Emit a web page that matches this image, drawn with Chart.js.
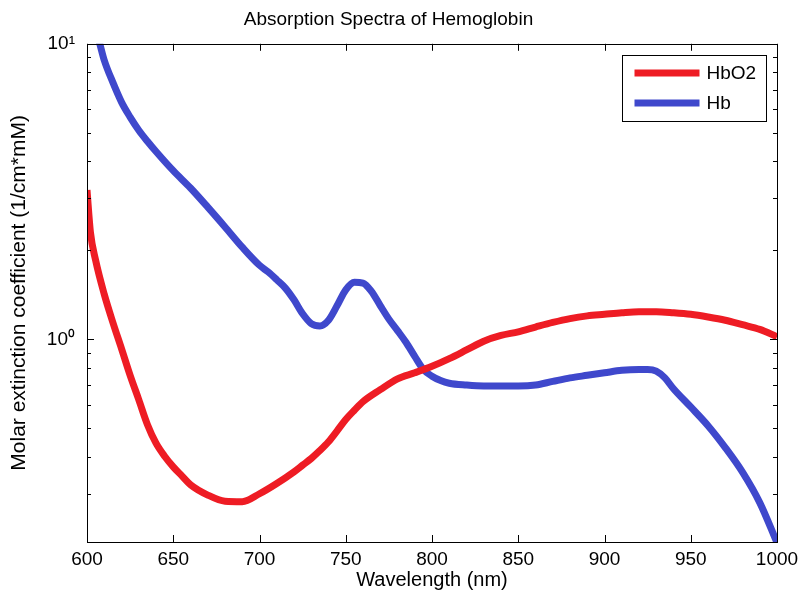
<!DOCTYPE html>
<html>
<head>
<meta charset="utf-8">
<script src="https://cdn.jsdelivr.net/npm/chart.js@4"></script>
<style>
  body { margin: 0; background: #fff; }
  canvas { display: block; }
</style>
</head>
<body>
<canvas id="chart" width="798" height="598"></canvas>
<script>
// data
const hbWavelengths = [600, 603, 607, 610, 615, 620, 625, 630, 635, 640, 650, 660, 670, 680, 690, 700,
  705, 710, 715, 720, 725, 730, 735, 740, 745, 750, 755, 760, 765, 770, 775, 780, 785, 790, 795, 800,
  805, 810, 820, 830, 840, 850, 860, 870, 880, 890, 900, 910, 920, 925, 930, 935, 940, 950, 960,
  970, 980, 990, 1000];
const hbValues = [14, 12, 10.2, 8.8, 7.4, 6.35, 5.65, 5.1, 4.68, 4.32, 3.72, 3.25, 2.8, 2.4, 2.05, 1.78,
  1.69, 1.59, 1.49, 1.36, 1.22, 1.13, 1.11, 1.16, 1.3, 1.47, 1.56, 1.55, 1.45, 1.3, 1.17, 1.07, 0.975,
  0.875, 0.79, 0.75, 0.725, 0.71, 0.7, 0.695, 0.695, 0.695, 0.7, 0.72, 0.74, 0.755, 0.77, 0.785,
  0.79, 0.79, 0.78, 0.74, 0.68, 0.59, 0.51, 0.43, 0.355, 0.28, 0.205];

const hbo2Wavelengths = [600, 602, 605, 610, 615, 620, 625, 630, 635, 640, 645, 650, 655, 660, 670,
  680, 690, 700, 710, 720, 725, 730, 735, 740, 745, 750, 755, 760, 770, 780, 790, 800, 810, 820,
  830, 840, 850, 860, 870, 880, 890, 900, 910, 920, 930, 940, 950, 960, 970, 980, 990, 1000];
const hbo2Values = [3.2, 2.3, 1.85, 1.42, 1.14, 0.93, 0.755, 0.625, 0.515, 0.445, 0.402, 0.37, 0.345,
  0.322, 0.297, 0.283, 0.282, 0.3, 0.325, 0.356, 0.375, 0.395, 0.42, 0.45, 0.49, 0.535, 0.575,
  0.615, 0.675, 0.735, 0.77, 0.81, 0.86, 0.92, 0.985, 1.03, 1.06, 1.1, 1.14, 1.175, 1.2, 1.215,
  1.23, 1.24, 1.24, 1.23, 1.215, 1.19, 1.16, 1.12, 1.08, 1.02];

const seriesNames = ['HbO2', 'Hb'];
const seriesColors = ['#ee1c24', '#3f48cc'];
const xTicks = [600, 650, 700, 750, 800, 850, 900, 950, 1000];

const FONT = '"Liberation Sans", Arial, sans-serif';

function toPoints(xs, ys) {
  return xs.map((x, i) => ({ x: x, y: ys[i] }));
}

// matlab-like box with inward ticks + legend
const boxPlugin = {
  id: 'box',
  afterDatasetsDraw(chart) {
    const { ctx, chartArea: a, scales } = chart;
    ctx.save();
    ctx.strokeStyle = '#000';
    ctx.lineWidth = 1;
    ctx.beginPath();
    scales.x.ticks.forEach(t => {
      const px = Math.round(scales.x.getPixelForValue(t.value)) + 0.5;
      ctx.moveTo(px, a.bottom); ctx.lineTo(px, a.bottom - 7);
      ctx.moveTo(px, a.top); ctx.lineTo(px, a.top + 7);
    });
    scales.y.ticks.forEach(t => {
      const v = t.value;
      const e = Math.floor(Math.log10(v) + 1e-9);
      const m = v / Math.pow(10, e);
      if (Math.abs(m - Math.round(m)) > 1e-6) return;
      const len = Math.round(m) === 1 ? 7 : 4;
      const py = Math.round(scales.y.getPixelForValue(v)) + 0.5;
      ctx.moveTo(a.left, py); ctx.lineTo(a.left + len, py);
      ctx.moveTo(a.right, py); ctx.lineTo(a.right - len, py);
    });
    ctx.stroke();
    ctx.strokeRect(Math.round(a.left) + 0.5, Math.round(a.top) + 0.5,
      Math.round(a.right - a.left), Math.round(a.bottom - a.top));

    // legend
    const bx = Math.round(a.right) - 154.5, by = Math.round(a.top) + 11.5, bw = 144, bh = 66;
    ctx.fillStyle = '#fff';
    ctx.fillRect(bx, by, bw, bh);
    ctx.strokeRect(bx, by, bw, bh);
    chart.data.datasets.forEach((ds, i) => {
      const ly = by + 17.5 + i * 30;
      ctx.strokeStyle = ds.borderColor;
      ctx.lineWidth = 7;
      ctx.beginPath();
      ctx.moveTo(bx + 12, ly); ctx.lineTo(bx + 77, ly);
      ctx.stroke();
      ctx.fillStyle = '#000';
      ctx.font = '19px ' + FONT;
      ctx.textBaseline = 'middle';
      ctx.fillText(ds.label, bx + 84, ly + 1);
    });
    ctx.restore();
  }
};

new Chart(document.getElementById('chart').getContext('2d'), {
  type: 'line',
  data: {
    datasets: [
      {
        label: seriesNames[0],
        data: toPoints(hbo2Wavelengths, hbo2Values),
        borderColor: seriesColors[0],
        borderWidth: 7,
        pointRadius: 0,
        cubicInterpolationMode: 'monotone',
        clip: 0,
      },
      {
        label: seriesNames[1],
        data: toPoints(hbWavelengths, hbValues),
        borderColor: seriesColors[1],
        borderWidth: 7,
        pointRadius: 0,
        cubicInterpolationMode: 'monotone',
        clip: 0,
      }
    ]
  },
  options: {
    responsive: false,
    animation: false,
    layout: { padding: { left: 0, right: 21, top: 0, bottom: 0 } },
    plugins: {
      legend: { display: false },
      tooltip: { enabled: false },
      title: {
        display: true,
        text: 'Absorption Spectra of Hemoglobin',
        color: '#000',
        font: { family: FONT, size: 19, weight: 'normal' },
        padding: { top: 8, bottom: 13 },
      },
    },
    scales: {
      x: {
        type: 'linear',
        min: 600,
        max: 1000,
        afterBuildTicks: s => { s.ticks = xTicks.map(v => ({ value: v })); },
        ticks: {
          color: '#000',
          font: { family: FONT, size: 19 },
          padding: 6,
          maxRotation: 0,
          autoSkip: false,
          callback: v => String(v),
        },
        grid: { display: false, drawTicks: false },
        border: { display: false },
        title: {
          display: true,
          text: 'Wavelength (nm)',
          color: '#000',
          font: { family: FONT, size: 20 },
          padding: { top: 0, bottom: 6 },
        },
        afterFit: s => { s.height = 56; s.paddingLeft = 0; s.paddingRight = 0; },
      },
      y: {
        type: 'logarithmic',
        min: 0.206,
        max: 10,
        ticks: {
          color: '#000',
          font: { family: FONT, size: 19 },
          padding: 12,
          autoSkip: false,
          callback: v => (v === 1 ? '10⁰' : v === 10 ? '10¹' : ''),
        },
        grid: { display: false, drawTicks: false },
        border: { display: false },
        title: {
          display: true,
          text: 'Molar extinction coefficient (1/cm*mM)',
          color: '#000',
          font: { family: FONT, size: 21 },
          padding: { top: 7, bottom: 0 },
        },
        afterFit: s => { s.width = 87; s.paddingTop = 0; s.paddingBottom = 0; },
      }
    }
  },
  plugins: [boxPlugin]
});
</script>
</body>
</html>
